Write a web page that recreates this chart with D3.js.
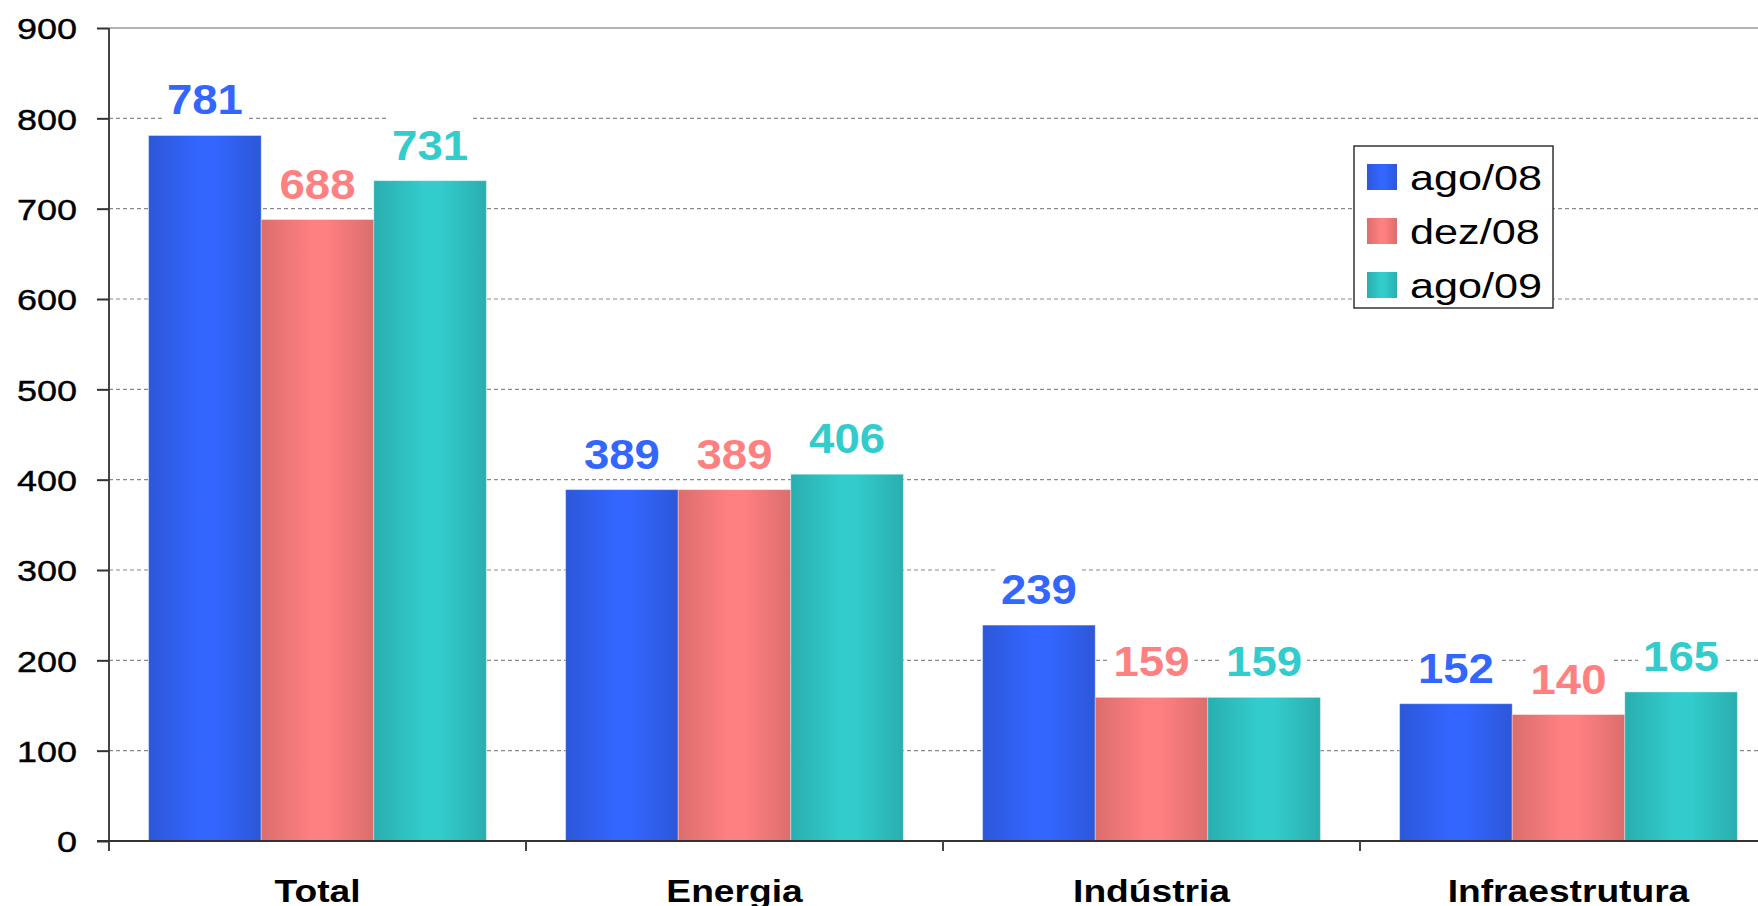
<!DOCTYPE html>
<html>
<head>
<meta charset="utf-8">
<script src="https://cdn.jsdelivr.net/npm/d3@7/dist/d3.min.js"></script>
<style>
  html, body { margin: 0; padding: 0; background: #fff; }
  svg { display: block; }
  text { font-family: "Liberation Sans", Arial, sans-serif; }
</style>
</head>
<body>
<script>
// ---- data ----
const categories = ["Total", "Energia", "Indústria", "Infraestrutura"];
const seriesNames = ["ago/08", "dez/08", "ago/09"];
const ago08 = [781, 389, 239, 152];
const dez08 = [688, 389, 159, 140];
const ago09 = [731, 406, 159, 165];
const yTicks = [0, 100, 200, 300, 400, 500, 600, 700, 800, 900];

// ---- styles ----
const W = 1758, H = 906;
const colors = {
  "ago/08": { dark: "#2c57d8", bright: "#3366ff", label: "#3366ff" },
  "dez/08": { dark: "#dc6d6d", bright: "#ff8080", label: "#ff8080" },
  "ago/09": { dark: "#2aaeae", bright: "#33cccc", label: "#33cccc" }
};
const seriesValues = { "ago/08": ago08, "dez/08": dez08, "ago/09": ago09 };

const svg = d3.select("body").append("svg").attr("width", W).attr("height", H);
svg.append("rect").attr("width", W).attr("height", H).attr("fill", "#fff");

const defs = svg.append("defs");
seriesNames.forEach((s, i) => {
  const g = defs.append("linearGradient").attr("id", "grad" + i)
    .attr("x1", "0%").attr("x2", "100%").attr("y1", "0%").attr("y2", "0%");
  g.append("stop").attr("offset", "0%").attr("stop-color", colors[s].dark);
  g.append("stop").attr("offset", "45%").attr("stop-color", colors[s].bright);
  g.append("stop").attr("offset", "58%").attr("stop-color", colors[s].bright);
  g.append("stop").attr("offset", "100%").attr("stop-color", colors[s].dark);
});

const pLeft = 109, pRight = 1777, pTop = 28, pBottom = 841;
const x0 = d3.scaleBand().domain(categories).range([pLeft, pRight])
  .paddingInner(0.19).paddingOuter(0.095);
const x1 = d3.scaleBand().domain(seriesNames).range([0, x0.bandwidth()]).padding(0);
const y = d3.scaleLinear().domain([0, 900]).range([pBottom, pTop]);

// gridlines
const grid = svg.append("g");
grid.selectAll("line.g").data(yTicks.filter(d => d > 0 && d < 900)).enter().append("line")
  .attr("x1", pLeft).attr("x2", W).attr("y1", d => y(d)).attr("y2", d => y(d))
  .attr("stroke", "#8a8a8a").attr("stroke-width", 1.2).attr("stroke-dasharray", "4,3");
grid.append("line").attr("x1", pLeft).attr("x2", W).attr("y1", y(900)).attr("y2", y(900))
  .attr("stroke", "#9a9a9a").attr("stroke-width", 1.3);

// bars
const groups = svg.append("g").selectAll("g").data(categories).enter().append("g")
  .attr("transform", d => `translate(${x0(d)},0)`);
groups.selectAll("rect").data((c, ci) => seriesNames.map((s, si) => ({ s, si, v: seriesValues[s][ci] })))
  .enter().append("rect")
  .attr("x", d => x1(d.s)).attr("width", x1.bandwidth())
  .attr("y", d => y(d.v)).attr("height", d => y(0) - y(d.v))
  .attr("fill", d => `url(#grad${d.si})`)
  .attr("stroke", "rgba(255,255,255,0.35)").attr("stroke-width", 1);

// data labels with white background
const lblFs = 43, lblSx = 1.06;
const labels = groups.selectAll("g.lbl").data((c, ci) => seriesNames.map((s, si) => ({ s, si, v: seriesValues[s][ci] })))
  .enter().append("g").attr("class", "lbl")
  .attr("transform", d => `translate(${x1(d.s) + x1.bandwidth() / 2},${y(d.v) - 21})`);
labels.append("rect")
  .attr("x", -43).attr("width", 86)
  .attr("y", -lblFs * 1.05).attr("height", lblFs * 1.25)
  .attr("fill", "#fff");
labels.append("text")
  .attr("text-anchor", "middle")
  .attr("transform", `scale(${lblSx},1)`)
  .attr("font-size", lblFs).attr("font-weight", "bold")
  .attr("fill", d => colors[d.s].label)
  .text(d => d.v);

// y axis
const ySx = 1.2;
const yAxis = svg.append("g").attr("transform", `translate(${pLeft},0)`)
  .call(d3.axisLeft(y).tickValues(yTicks).tickSize(12).tickPadding(32));
yAxis.select(".domain").attr("stroke", "#444").attr("stroke-width", 2)
  .attr("d", `M0,${pTop}V${pBottom + 10}`);
yAxis.selectAll(".tick line").attr("stroke", "#333").attr("stroke-width", 2);
yAxis.selectAll(".tick text")
  .attr("font-size", 30).attr("fill", "#000")
  .attr("stroke", "#000").attr("stroke-width", 0.4)
  .attr("font-family", "Liberation Sans, Arial, sans-serif")
  .attr("x", -32 / ySx).attr("dy", "0.36em")
  .attr("transform", `scale(${ySx},1)`);

// x axis
const boundaries = categories.map(c => x0(c) - x0.step() * x0.paddingInner() / 2);
const xAxis = svg.append("g").attr("transform", `translate(0,${pBottom})`)
  .call(d3.axisBottom(x0).tickSize(0).tickPadding(0));
xAxis.select(".domain").remove();
xAxis.append("line").attr("x1", pLeft - 12).attr("x2", W).attr("y1", 0).attr("y2", 0)
  .attr("stroke", "#333").attr("stroke-width", 2);
xAxis.selectAll("line.b").data(boundaries.slice(1)).enter().append("line")
  .attr("x1", d => d).attr("x2", d => d).attr("y1", 0).attr("y2", 10)
  .attr("stroke", "#444").attr("stroke-width", 2);
const catSx = 1.18;
xAxis.selectAll(".tick text")
  .attr("font-size", 31.5).attr("font-weight", "bold").attr("fill", "#000")
  .attr("font-family", "Liberation Sans, Arial, sans-serif")
  .attr("y", 61.5).attr("dy", 0)
  .attr("transform", `scale(${catSx},1)`)
  .attr("x", 0);

// legend
const lg = svg.append("g").attr("transform", "translate(1354,146)");
lg.append("rect").attr("width", 199).attr("height", 162)
  .attr("fill", "#fff").attr("stroke", "#333").attr("stroke-width", 1.5);
const items = lg.selectAll("g.item").data(seriesNames).enter().append("g")
  .attr("transform", (d, i) => `translate(13,${18 + i * 54})`);
items.append("rect").attr("width", 30).attr("height", 26)
  .attr("fill", (d, i) => `url(#grad${i})`);
const lgSx = 1.2;
items.append("text")
  .attr("x", 43 / lgSx).attr("y", 26)
  .attr("transform", `scale(${lgSx},1)`)
  .attr("font-size", 36).attr("fill", "#000")
  .text(d => d);
</script>
</body>
</html>
